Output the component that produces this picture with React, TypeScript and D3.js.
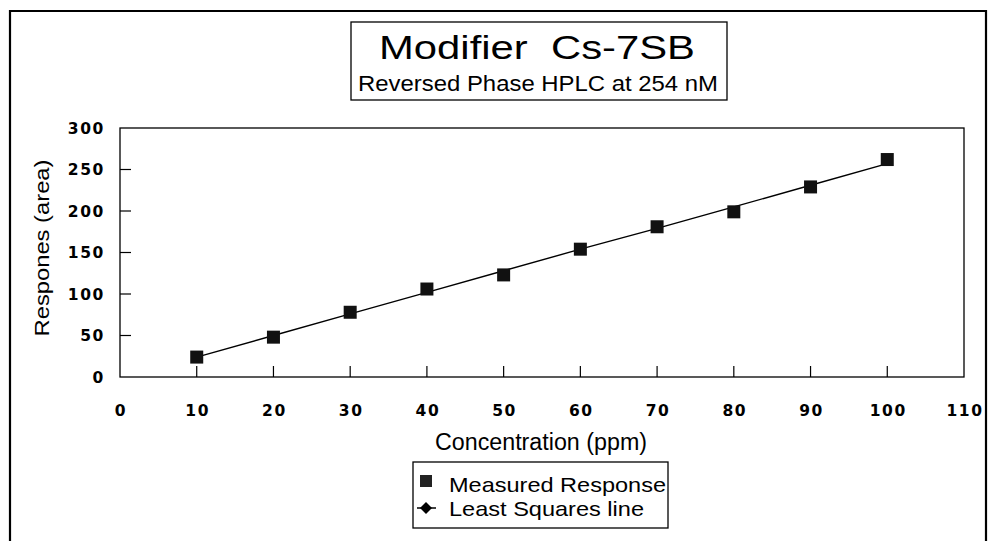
import React from "react";
import * as d3 from "d3";

const concentrations = [10, 20, 30, 40, 50, 60, 70, 80, 90, 100];
const measured = [24, 48, 78, 106, 123, 154, 181, 199, 229, 262];
const leastSquares = [24, 50, 76, 102, 128, 154, 179, 205, 231, 257];
const xTicks = [0, 10, 20, 30, 40, 50, 60, 70, 80, 90, 100, 110];
const yTicks = [0, 50, 100, 150, 200, 250, 300];

const W = 988;
const H = 541;
const M = { left: 120, right: 964, top: 128, bottom: 377 };

export default function App() {
  const x = d3.scaleLinear().domain([0, 110]).range([M.left, M.right]);
  const y = d3.scaleLinear().domain([0, 300]).range([M.bottom, M.top]);
  const line = d3
    .line<number>()
    .x((_, i) => x(concentrations[i]))
    .y((d) => y(d));
  const tickFont = "'DejaVu Sans', sans-serif";
  const textFont = "'Liberation Sans', Arial, sans-serif";
  const sq = 13;
  return (
    <svg
      width={W}
      height={H}
      style={{ position: "absolute", left: 0, top: 0, background: "#fff" }}
    >
      {/* outer frame */}
      <path d={`M10,${H} V11 H986 V${H}`} fill="none" stroke="#000" strokeWidth={2.2} />

      {/* title box */}
      <rect x={351} y={22} width={376} height={78} fill="#fff" stroke="#000" strokeWidth={1.3} />
      <text
        x={379}
        y={59}
        fontFamily={textFont}
        fontSize={33}
        textLength={316}
        lengthAdjust="spacingAndGlyphs"
        style={{ whiteSpace: "pre" }}
      >
        {"Modifier  Cs-7SB"}
      </text>
      <text
        x={358}
        y={91}
        fontFamily={textFont}
        fontSize={22}
        textLength={360}
        lengthAdjust="spacingAndGlyphs"
      >
        Reversed Phase HPLC at 254 nM
      </text>

      {/* plot frame */}
      <rect
        x={M.left}
        y={M.top}
        width={M.right - M.left}
        height={M.bottom - M.top}
        fill="none"
        stroke="#000"
        strokeWidth={1.3}
      />

      {/* y ticks */}
      {yTicks.map((t) => (
        <g key={"y" + t}>
          {t > 0 && t < 300 && (
            <line x1={M.left} x2={M.left + 11} y1={y(t)} y2={y(t)} stroke="#000" strokeWidth={1.2} />
          )}
          <text
            x={105}
            y={y(t)}
            dy="0.36em"
            textAnchor="end"
            fontFamily={tickFont}
            fontWeight="bold"
            fontSize={15.5}
            letterSpacing={1.6}
          >
            {t}
          </text>
        </g>
      ))}

      {/* x ticks */}
      {xTicks.map((t) => (
        <g key={"x" + t}>
          {t > 0 && t < 110 && (
            <line x1={x(t)} x2={x(t)} y1={M.bottom} y2={M.bottom - 11} stroke="#000" strokeWidth={1.2} />
          )}
          <text
            x={x(t) + 1}
            y={416}
            textAnchor="middle"
            fontFamily={tickFont}
            fontWeight="bold"
            fontSize={15.5}
            letterSpacing={1.6}
          >
            {t}
          </text>
        </g>
      ))}

      {/* axis titles */}
      <text
        transform={`translate(49,248) rotate(-90)`}
        textAnchor="middle"
        fontFamily={textFont}
        fontSize={21}
        textLength={177}
        lengthAdjust="spacingAndGlyphs"
      >
        Respones (area)
      </text>
      <text
        x={435}
        y={450}
        fontFamily={textFont}
        fontSize={23}
        textLength={212}
        lengthAdjust="spacingAndGlyphs"
      >
        Concentration (ppm)
      </text>

      {/* least squares line */}
      <path d={line(leastSquares) || ""} fill="none" stroke="#000" strokeWidth={1.4} />

      {/* measured squares */}
      {measured.map((v, i) => (
        <rect
          key={"m" + i}
          x={x(concentrations[i]) - sq / 2}
          y={y(v) - sq / 2}
          width={sq}
          height={sq}
          fill="#111"
        />
      ))}

      {/* legend */}
      <rect x={413} y={462} width={255} height={66} fill="#fff" stroke="#000" strokeWidth={1.3} />
      <rect x={420} y={475} width={12} height={12} fill="#222" />
      <text
        x={449}
        y={492}
        fontFamily={textFont}
        fontSize={21}
        textLength={217}
        lengthAdjust="spacingAndGlyphs"
      >
        Measured Response
      </text>
      <path d="M417,508 H436" stroke="#000" strokeWidth={1.5} />
      <path d="M426,502 L432,508 L426,514 L420,508 Z" fill="#000" />
      <text
        x={449}
        y={516}
        fontFamily={textFont}
        fontSize={21}
        textLength={195}
        lengthAdjust="spacingAndGlyphs"
      >
        Least Squares line
      </text>
    </svg>
  );
}
